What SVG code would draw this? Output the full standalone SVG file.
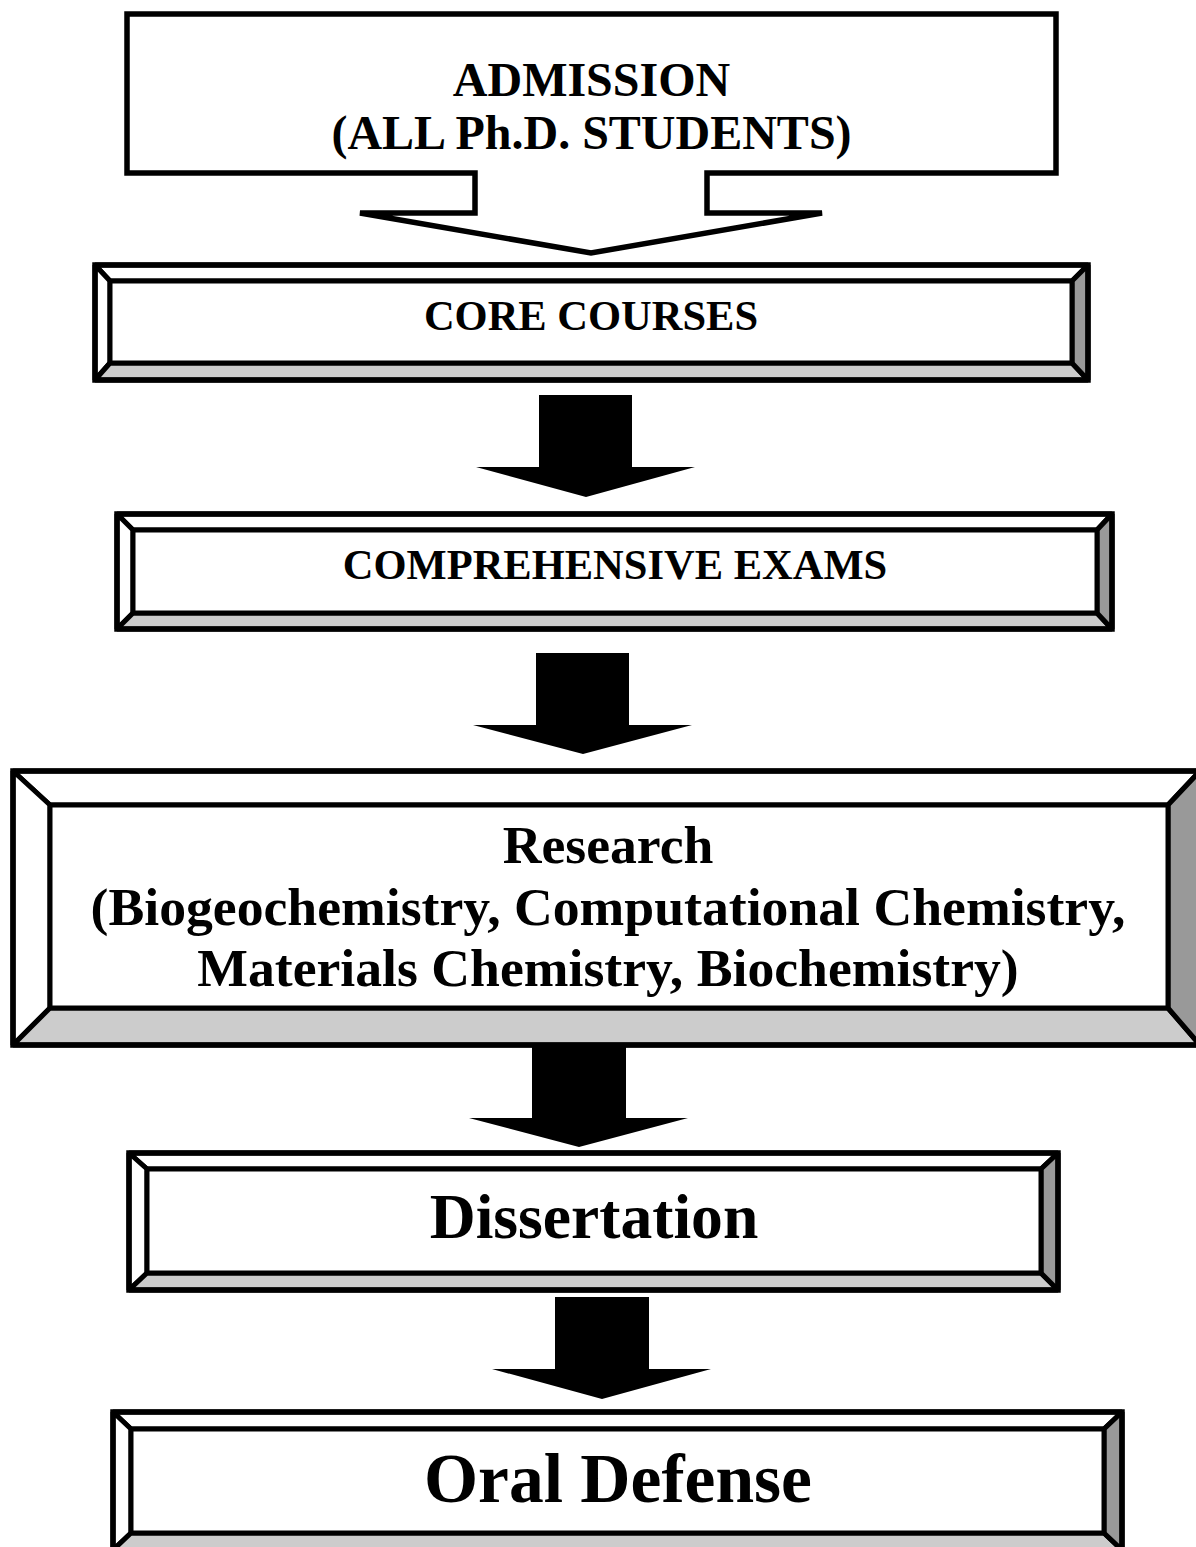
<svg xmlns="http://www.w3.org/2000/svg" width="1196" height="1547" viewBox="0 0 1196 1547">
<style>
.bg{fill:#ffffff}
.hl{fill:#ffffff;stroke:#000;stroke-width:5;stroke-linejoin:bevel}
.sh1{fill:#cccccc;stroke:#000;stroke-width:5;stroke-linejoin:bevel}
.sh2{fill:#999999;stroke:#000;stroke-width:5;stroke-linejoin:bevel}
.face{fill:#ffffff;stroke:#000;stroke-width:5}
.outer{fill:none;stroke:#000;stroke-width:5.5}
.callout{fill:#ffffff;stroke:#000;stroke-width:5.5;stroke-linejoin:miter;stroke-miterlimit:4}
.arrow{fill:#000;stroke:none}
text{font-family:"Liberation Serif","Times New Roman",serif;font-weight:bold;fill:#000;text-anchor:middle}
</style>
<rect class="bg" x="0" y="0" width="1196" height="1547"/>

<g id="admission">
<path class="callout" d="M127,14 H1056 V173 H707 V213 H822 L591,253 L360,213 H475 V173 H127 Z"/>
<text x="591.5" y="96" font-size="48">ADMISSION</text>
<text x="591.5" y="149" font-size="48">(ALL Ph.D. STUDENTS)</text>
</g>

<g id="core-courses">
<polygon class="hl" points="95,265 1088,265 1072,281 110,281"/>
<polygon class="hl" points="95,265 110,281 110,363 95,380"/>
<polygon class="sh1" points="95,380 110,363 1072,363 1088,380"/>
<polygon class="sh2" points="1088,265 1088,380 1072,363 1072,281"/>
<rect class="face" x="110" y="281" width="962" height="82"/>
<rect class="outer" x="95" y="265" width="993" height="115"/>
<text x="591" y="330" font-size="42.5">CORE COURSES</text>
</g>

<g id="comprehensive-exams">
<polygon class="hl" points="117,514 1112,514 1097,530 133,530"/>
<polygon class="hl" points="117,514 133,530 133,613 117,629"/>
<polygon class="sh1" points="117,629 133,613 1097,613 1112,629"/>
<polygon class="sh2" points="1112,514 1112,629 1097,613 1097,530"/>
<rect class="face" x="133" y="530" width="964" height="83"/>
<rect class="outer" x="117" y="514" width="995" height="115"/>
<text x="615" y="579" font-size="42.5">COMPREHENSIVE EXAMS</text>
</g>

<g id="research">
<polygon class="hl" points="13,771 1200,771 1168,805 50,805"/>
<polygon class="hl" points="13,771 50,805 50,1008 13,1045"/>
<polygon class="sh1" points="13,1045 50,1008 1168,1008 1200,1045"/>
<polygon class="sh2" points="1200,771 1200,1045 1168,1008 1168,805"/>
<rect class="face" x="50" y="805" width="1118" height="203"/>
<rect class="outer" x="13" y="771" width="1187" height="274"/>
<text x="608" y="863" font-size="53.7">Research</text>
<text x="608" y="925" font-size="53.7">(Biogeochemistry, Computational Chemistry,</text>
<text x="608" y="986" font-size="53.7">Materials Chemistry, Biochemistry)</text>
</g>

<g id="dissertation">
<polygon class="hl" points="129,1153 1058,1153 1041,1169 147,1169"/>
<polygon class="hl" points="129,1153 147,1169 147,1273 129,1290"/>
<polygon class="sh1" points="129,1290 147,1273 1041,1273 1058,1290"/>
<polygon class="sh2" points="1058,1153 1058,1290 1041,1273 1041,1169"/>
<rect class="face" x="147" y="1169" width="894" height="104"/>
<rect class="outer" x="129" y="1153" width="929" height="137"/>
<text x="594" y="1238" font-size="63.6">Dissertation</text>
</g>

<g id="oral-defense">
<polygon class="hl" points="113,1412 1122,1412 1104,1429 131,1429"/>
<polygon class="hl" points="113,1412 131,1429 131,1533 113,1550"/>
<polygon class="sh1" points="113,1550 131,1533 1104,1533 1122,1550"/>
<polygon class="sh2" points="1122,1412 1122,1550 1104,1533 1104,1429"/>
<rect class="face" x="131" y="1429" width="973" height="104"/>
<rect class="outer" x="113" y="1412" width="1009" height="138"/>
<text x="618" y="1502" font-size="69.5">Oral Defense</text>
</g>

<g id="connectors">
<polygon class="arrow" points="539,395 632,395 632,467 695,467 586,497 476,467 539,467"/>
<polygon class="arrow" points="536,653 629,653 629,725 692,725 583,754 473,725 536,725"/>
<polygon class="arrow" points="532,1046 626,1046 626,1118 688,1118 579,1147 469,1118 532,1118"/>
<polygon class="arrow" points="555,1297 649,1297 649,1369 711,1369 602,1399 492,1369 555,1369"/>
</g>
</svg>
